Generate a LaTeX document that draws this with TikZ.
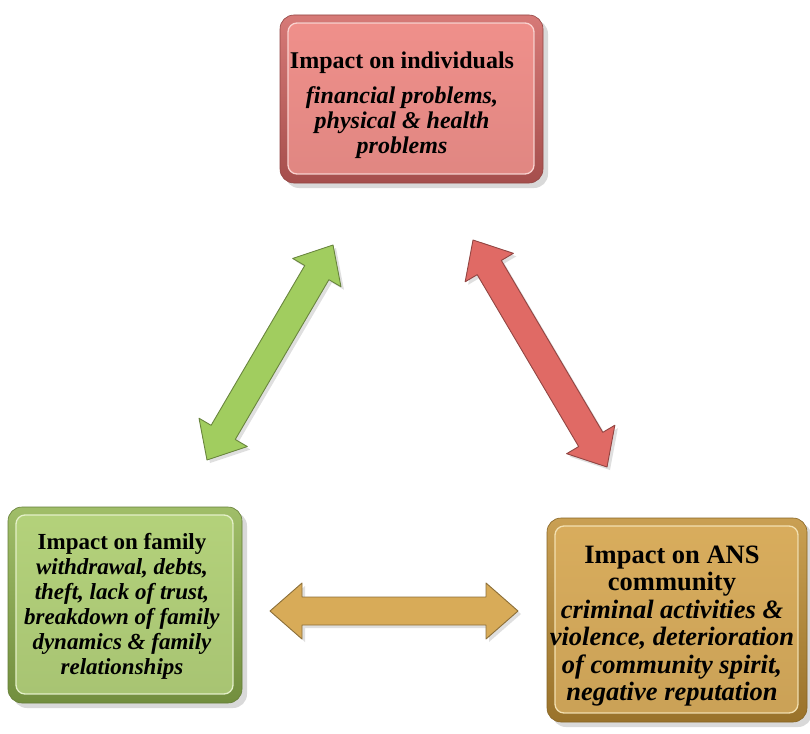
\documentclass[tikz,border=0pt]{standalone}
\usepackage{fontspec}
\setmainfont{Liberation Serif}
\usetikzlibrary{calc,shadows}

\definecolor{redface}{HTML}{F0908B}
\definecolor{redrim}{HTML}{CF625F}
\definecolor{redlight}{HTML}{FAD2CF}
\definecolor{greenface}{HTML}{B4D27B}
\definecolor{greenrim}{HTML}{8FB24E}
\definecolor{greenlight}{HTML}{E4F0C8}
\definecolor{goldface}{HTML}{D9AD5D}
\definecolor{goldrim}{HTML}{C08F35}
\definecolor{goldlight}{HTML}{F3E0B0}
\definecolor{greenarrow}{HTML}{A1CD5F}
\definecolor{redarrow}{HTML}{E06A65}
\definecolor{goldarrow}{HTML}{D8AB58}

\tikzset{
  % bevelled panel: darker rim, lighter inner face
  panel/.style n args={3}{rectangle, rounded corners=14pt,
    draw=#2!70!black, line width=0.6pt,
    top color=#2!85!white, bottom color=#2!80!black,
    drop shadow={shadow xshift=5pt, shadow yshift=-5pt, opacity=0.3},
    path picture={
      \fill[rounded corners=9pt, top color=#1, bottom color=#1!93!black,
            draw=#3, line width=1.3pt]
        ($(path picture bounding box.south west)+(8pt,9pt)$) rectangle
        ($(path picture bounding box.north east)+(-9pt,-8pt)$);
    }},
  blurb/.style={align=center, inner sep=0pt, text=black},
  arrowbody/.style={fill=#1, draw=#1!65!black, line width=0.9pt, line join=round,
    drop shadow={shadow xshift=3pt, shadow yshift=-3pt, opacity=0.25}}
}

% double-headed block arrow between two named points
\newcommand{\linkarrow}[3]{%
  \path[arrowbody=#3]
    (#1)
    -- ($(#1)!32pt!(#2)!28pt!90:(#2)$)
    -- ($(#1)!32pt!(#2)!14pt!90:(#2)$)
    -- ($(#2)!32pt!(#1)!14pt!-90:(#1)$)
    -- ($(#2)!32pt!(#1)!28pt!-90:(#1)$)
    -- (#2)
    -- ($(#2)!32pt!(#1)!28pt!90:(#1)$)
    -- ($(#2)!32pt!(#1)!14pt!90:(#1)$)
    -- ($(#1)!32pt!(#2)!14pt!-90:(#2)$)
    -- ($(#1)!32pt!(#2)!28pt!-90:(#2)$)
    -- cycle;}

\begin{document}
\begin{tikzpicture}[x=1pt, y=-1pt]
  \useasboundingbox (0,0) rectangle (810,733);

  % the three panels
  \node[panel={redface}{redrim}{redlight}, minimum width=263pt, minimum height=168pt]
    (ind) at (411.5,99) {};
  \node[panel={greenface}{greenrim}{greenlight}, minimum width=234pt, minimum height=196pt]
    (fam) at (125,605) {};
  \node[panel={goldface}{goldrim}{goldlight}, minimum width=260pt, minimum height=204pt]
    (com) at (677,620) {};

  % panel texts
  \node[blurb, font=\fontsize{24}{25}\selectfont\bfseries] (indtext) at (402,105)
    {Impact on individuals\\[10pt]
     \textit{financial problems,}\\
     \textit{physical \& health}\\
     \textit{problems}};
  \node[blurb, font=\fontsize{23}{25}\selectfont\bfseries] (famtext) at (122,606)
    {Impact on family\\
     \textit{withdrawal, debts,}\\
     \textit{theft, lack of trust,}\\
     \textit{breakdown of family}\\
     \textit{dynamics \& family}\\
     \textit{relationships}};
  \node[blurb, font=\fontsize{26.5}{27.5}\selectfont\bfseries] (comtext) at (672,626)
    {Impact on ANS\\
     community\\
     \textit{criminal activities \&}\\
     \textit{violence, deterioration}\\
     \textit{of community spirit,}\\
     \textit{negative reputation}};

  % arrow end points
  \coordinate (gA) at (207,460);
  \coordinate (gB) at (333,245);
  \coordinate (rA) at (473,240);
  \coordinate (rB) at (607,467);
  \coordinate (yA) at (270,611);
  \coordinate (yB) at (518,611);

  \linkarrow{gA}{gB}{greenarrow}
  \linkarrow{rA}{rB}{redarrow}
  \linkarrow{yA}{yB}{goldarrow}
\end{tikzpicture}
\end{document}
